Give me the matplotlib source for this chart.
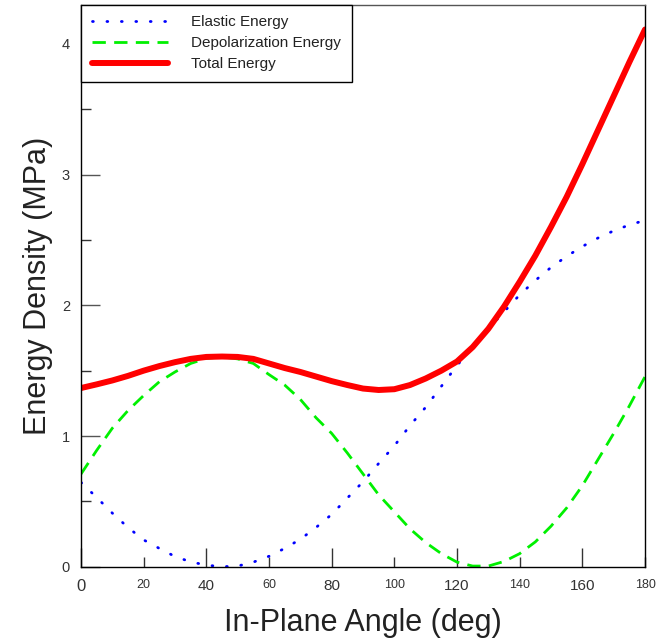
import numpy as np
import matplotlib
matplotlib.use('Agg')
import matplotlib.pyplot as plt
from matplotlib.ticker import MultipleLocator

plt.rcParams['font.family'] = ['Liberation Sans', 'DejaVu Sans']

# angles read every 5 degrees
angle = np.arange(0, 181, 5)

elastic = [0.645, 0.53, 0.41, 0.30, 0.205, 0.14, 0.078, 0.037, 0.012, 0.0,
           0.005, 0.035, 0.08, 0.14, 0.21, 0.30, 0.40, 0.525, 0.65, 0.79,
           0.925, 1.08, 1.22, 1.38, 1.54, 1.68, 1.82, 1.95, 2.08, 2.19,
           2.29, 2.375, 2.45, 2.515, 2.57, 2.615, 2.65]

depol = [0.709, 0.89, 1.06, 1.195, 1.31, 1.415, 1.49, 1.555, 1.594, 1.605,
         1.59, 1.555, 1.47, 1.39, 1.28, 1.14, 1.02, 0.87, 0.71, 0.55,
         0.42, 0.29, 0.185, 0.10, 0.035, 0.005, 0.005, 0.04, 0.10, 0.19,
         0.31, 0.45, 0.62, 0.82, 1.02, 1.23, 1.454]

total = [1.367, 1.395, 1.425, 1.46, 1.50, 1.535, 1.565, 1.59, 1.605, 1.608,
         1.605, 1.59, 1.555, 1.52, 1.49, 1.455, 1.42, 1.39, 1.363, 1.352,
         1.358, 1.39, 1.44, 1.50, 1.57, 1.68, 1.82, 1.99, 2.18, 2.38,
         2.60, 2.83, 3.08, 3.34, 3.60, 3.86, 4.11]

xtick_vals = [0, 20, 40, 60, 80, 100, 120, 140, 160, 180]
xtick_sizes = [12, 9, 11, 9, 11, 9, 11, 9, 11, 9]
xtick_long = [True, False, True, False, True, False, True, False, True, False]
ytick_vals = [0, 1, 2, 3, 4]

fig = plt.figure(figsize=(6.7, 6.41), dpi=100)
ax = fig.add_axes([0.1209, 0.1159, 0.8418, 0.8768])

ax.plot(angle, elastic, color='#0000ff', lw=2, linestyle=(0, (0.3, 4.9)),
        dash_capstyle='round', label='Elastic Energy')
ax.plot(angle, depol, color='#00f000', lw=2, linestyle=(0, (4.8, 3.0)),
        label='Depolarization Energy')
ax.plot(angle, total, color='#ff0000', lw=4.3, solid_capstyle='round',
        label='Total Energy')

ax.set_xlim(0, 180)
ax.set_ylim(0, 4.30)

ax.set_xticks(xtick_vals)
ax.set_xticklabels([str(v) for v in xtick_vals])
for lab, s in zip(ax.get_xticklabels(), xtick_sizes):
    lab.set_fontsize(s)
ax.tick_params(axis='x', direction='in', length=14, width=1, color='#333333',
               labelcolor='#333333', pad=9, top=False)
for t, lng in zip(ax.xaxis.get_major_ticks(), xtick_long):
    t.tick1line.set_markersize(14 if lng else 7)

ax.set_yticks(ytick_vals)
ax.yaxis.set_minor_locator(MultipleLocator(0.5))
ax.tick_params(axis='y', which='major', direction='in', length=14, width=1,
               color='#555555', labelcolor='#333333', labelsize=10.5, pad=8,
               right=False)
ax.tick_params(axis='y', which='minor', direction='in', length=7, width=1,
               color='#333333', right=False)

for sp in ax.spines.values():
    sp.set_linewidth(1)
    sp.set_color('black')
ax.spines['top'].set_color('#555555')

ax.set_xlabel('In-Plane Angle (deg)', fontsize=22, color='#222222', labelpad=10)
ax.set_ylabel('Energy Density (MPa)', fontsize=22, color='#222222', labelpad=6)

leg = ax.legend(loc='upper left', borderaxespad=0, fontsize=11, handlelength=5,
                handletextpad=1.5, borderpad=0.7, labelspacing=0.45,
                fancybox=False, framealpha=1, edgecolor='black')
leg.get_frame().set_linewidth(1)
for txt in leg.get_texts():
    txt.set_color('#222222')

fig.savefig('out.png', dpi=100)
